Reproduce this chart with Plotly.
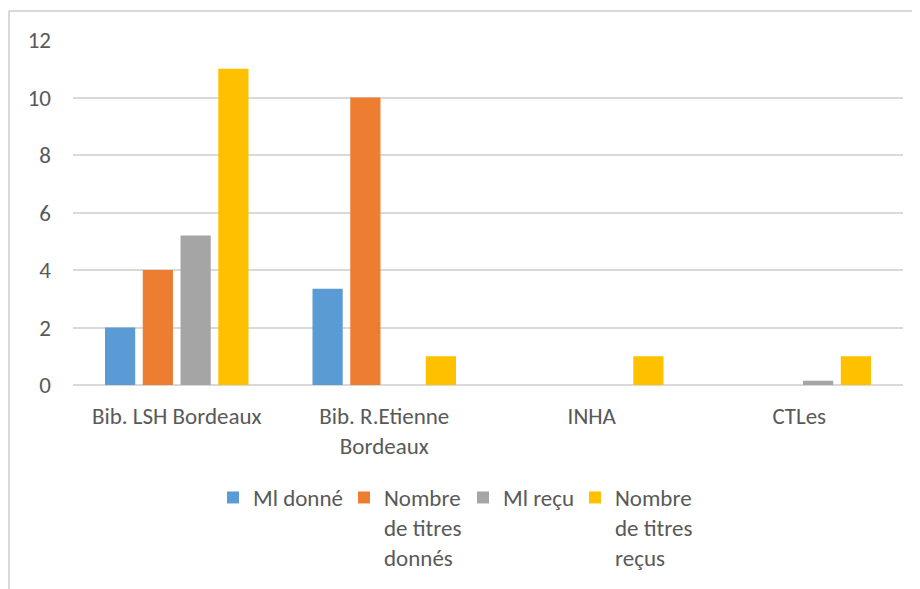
import plotly.graph_objects as go

categories = ["Bib. LSH Bordeaux", "Bib. R.Etienne<br>Bordeaux", "INHA", "CTLes"]
series_names = ["Ml donné", "Nombre<br>de titres<br>donnés", "Ml reçu", "Nombre<br>de titres<br>reçus"]
ml_donne = [2, 3.35, 0, 0]
titres_donnes = [4, 10, 0, 0]
ml_recu = [5.2, 0, 0, 0.15]
titres_recus = [11, 1, 1, 1]
y_ticks = [0, 2, 4, 6, 8, 10, 12]

colors = ["#5B9BD5", "#ED7D31", "#A5A5A5", "#FFC000"]
values = [ml_donne, titres_donnes, ml_recu, titres_recus]
legend_ids = ["legend", "legend2", "legend3", "legend4"]

OFF = 8  # page body margin
W, H = 920, 589
L, T = 73 - OFF, 40 - OFF
pw, ph = 830, 345
R, B = W - L - pw, H - T - ph

def px_x(page_x):
    return (page_x - OFF - L) / pw

def px_y(page_y):
    return (T + ph - (page_y - OFF)) / ph

font_family = "Carlito, Lato, 'Open Sans', sans-serif"
text_color = "#595959"
FS = 23

fig = go.Figure()
for name, vals, col, lg in zip(series_names, values, colors, legend_ids):
    fig.add_trace(go.Bar(x=categories, y=vals, name=name, marker=dict(color=col, line=dict(width=0)),
                         legend=lg, showlegend=True))

text_start_page = [253, 384, 503, 615]
legends = {}
for lg, xp in zip(legend_ids, text_start_page):
    legends[lg] = dict(x=px_x(xp - 40), y=px_y(476), xanchor="left", yanchor="top",
                       orientation="v", valign="top", bgcolor="rgba(0,0,0,0)",
                       font=dict(family=font_family, size=FS, color=text_color),
                       itemwidth=30, tracegroupgap=0, visible=True)

fig.update_layout(
    width=W, height=H,
    showlegend=True,
    margin=dict(l=L, r=R, t=T, b=B, pad=0),
    paper_bgcolor="white", plot_bgcolor="white",
    barmode="group", bargap=0.272, bargroupgap=0.2,
    font=dict(family=font_family, size=FS, color=text_color),
    xaxis=dict(showgrid=False, showline=False, zeroline=False, ticks="",
               tickfont=dict(family=font_family, size=FS, color=text_color),
               ticklabelstandoff=15),
    yaxis=dict(range=[0, 12], tickvals=y_ticks, showgrid=True, gridcolor="#D9D9D9", gridwidth=1.5,
               zeroline=True, zerolinecolor="#D9D9D9", zerolinewidth=1.5, showline=False, ticks="",
               tickfont=dict(family=font_family, size=FS, color=text_color),
               ticklabelstandoff=21),
    shapes=[
        dict(type="line", xref="paper", yref="paper", x0=px_x(9), x1=px_x(W + 20), y0=px_y(11), y1=px_y(11),
             line=dict(color="#D9D9D9", width=2)),
        dict(type="line", xref="paper", yref="paper", x0=px_x(9), x1=px_x(9), y0=px_y(11), y1=px_y(H + 20),
             line=dict(color="#D9D9D9", width=2)),
    ],
    **legends,
)

fig.write_html("out.html")
